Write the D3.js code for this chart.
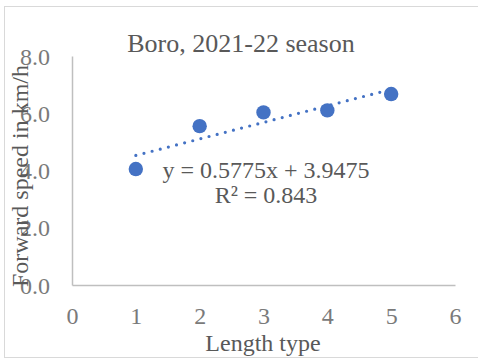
<!DOCTYPE html>
<html>
<head>
<meta charset="utf-8">
<script src="https://cdn.jsdelivr.net/npm/d3@7"></script>
<style>
  html, body { margin: 0; padding: 0; background: #fff; }
  svg text { font-family: "Liberation Serif", "Times New Roman", serif; }
</style>
</head>
<body>
<svg id="chart" width="478" height="361"></svg>
<script>
// data
const lengthType = [1, 2, 3, 4, 5];
const speed = [4.05, 5.55, 6.03, 6.1, 6.67];
const xTicks = [0, 1, 2, 3, 4, 5, 6];
const yTicks = [0, 2, 4, 6, 8];
const slope = 0.5775, intercept = 3.9475;

const svg = d3.select('#chart');
const blue = '#4472C4', ink = '#595959', tickInk = '#7a7a7a';
const serif = '"Liberation Serif", "Times New Roman", serif';

// chart border
svg.append('rect').attr('x', 4.5).attr('y', 6.5).attr('width', 480).attr('height', 351)
  .attr('fill', '#fff').attr('stroke', '#d9d9d9');

const x = d3.scaleLinear().domain([0, 6]).range([72, 455]);
const y = d3.scaleLinear().domain([0, 8]).range([285, 56]);

// axes
const xAxis = svg.append('g').attr('transform', `translate(0,${y(0)})`)
  .call(d3.axisBottom(x).tickValues(xTicks).tickSize(0).tickPadding(22).tickFormat(d3.format('d')));
const yAxis = svg.append('g').attr('transform', `translate(${x(0)},0)`)
  .call(d3.axisLeft(y).tickValues(yTicks).tickSize(0).tickPadding(22).tickFormat(d3.format('.1f')));
[xAxis, yAxis].forEach(g => {
  g.attr('font-family', serif);
  g.select('.domain').attr('stroke', '#bfbfbf').attr('stroke-width', 1.5);
  g.selectAll('text').attr('font-size', 24).attr('fill', tickInk)
    .style('font-family', serif);
});
xAxis.selectAll('text').attr('dy', '0.71em').attr('y', 22);
yAxis.selectAll('text').attr('dy', '0.34em');

// trendline
svg.append('line')
  .attr('x1', x(1)).attr('y1', y(slope * 1 + intercept))
  .attr('x2', x(5)).attr('y2', y(slope * 5 + intercept))
  .attr('stroke', blue).attr('stroke-width', 3.2)
  .attr('stroke-linecap', 'round').attr('stroke-dasharray', '0 8.4');

// points
svg.append('g').selectAll('circle').data(lengthType).join('circle')
  .attr('cx', d => x(d)).attr('cy', (d, i) => y(speed[i]))
  .attr('r', 7.2).attr('fill', blue);

// title
svg.append('text').attr('x', 241).attr('y', 52).attr('text-anchor', 'middle')
  .attr('font-size', 26).attr('fill', ink).text('Boro, 2021-22 season');

// equation
svg.append('text').attr('x', 266).attr('y', 178).attr('text-anchor', 'middle')
  .attr('font-size', 24).attr('fill', ink)
  .text(`y = ${slope}x + ${intercept}`);
svg.append('text').attr('x', 266).attr('y', 203).attr('text-anchor', 'middle')
  .attr('font-size', 24).attr('fill', ink).text('R² = 0.843');

// axis titles
svg.append('text').attr('x', 263).attr('y', 351).attr('text-anchor', 'middle')
  .attr('font-size', 24).attr('fill', ink).text('Length type');
svg.append('text').attr('transform', 'translate(28,176) rotate(-90)')
  .attr('text-anchor', 'middle').attr('font-size', 24).attr('fill', ink)
  .text('Forward speed in km/h');
</script>
</body>
</html>
